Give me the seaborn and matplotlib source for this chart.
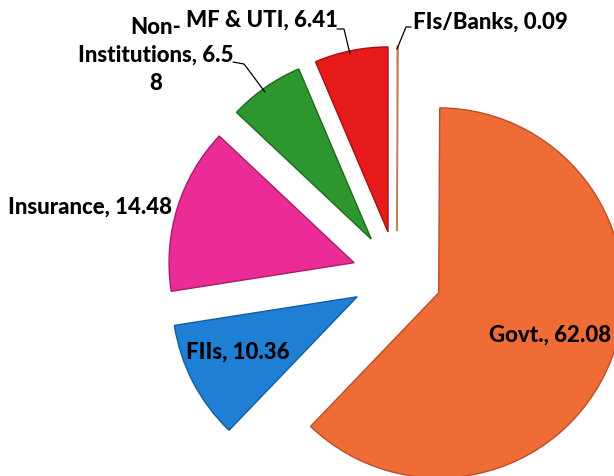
import matplotlib
matplotlib.use("Agg")
import matplotlib.pyplot as plt
import seaborn as sns

# shareholding pattern (%), clockwise from 12 o'clock
categories = ["FIs/Banks", "Govt.", "FIIs", "Insurance", "Non-Institutions", "MF & UTI"]
values = [0.09, 62.08, 10.36, 14.48, 6.58, 6.41]
slice_colors = ["#D9A06A", "#F06C36", "#1E7FD4", "#EC2C96", "#2E962E", "#E61A1A"]
edge_colors = ["#C08050", "#B8502A", "#155E9E", "#A81E6C", "#1F6A1F", "#A81010"]
label_texts = ["FIs/Banks, 0.09", "Govt., 62.08", "FIIs, 10.36",
               "Insurance, 14.48", "Non-\nInstitutions, 6.5\n8", "MF & UTI, 6.41"]

sns.set_theme(style="white")
plt.rcParams["font.family"] = ["Lato", "DejaVu Sans"]

W, H = 614, 477
fig = plt.figure(figsize=(W / 100, H / 100), dpi=100)
ax = fig.add_axes([0, 0, 1, 1])

wedges, _ = ax.pie(values, colors=slice_colors, startangle=90, counterclock=False,
                   explode=[0.243] * len(values), radius=1.0,
                   wedgeprops=dict(linewidth=1.0))
for w, ec in zip(wedges, edge_colors):
    w.set_edgecolor(ec)

# map pie so the centre sits at (397, 277) px with radius 185 px
cx, cy, r = 397, 277, 185
ax.set_xlim(-cx / r, (W - cx) / r)
ax.set_ylim(-(H - cy) / r, cy / r)
ax.set_aspect("equal")
ax.axis("off")


def fx(px):
    return px / W


def fy(py):
    return 1 - py / H


fs = 16
line_h = 28  # px between wrapped label lines
# label positions (pixels, first line) in the reference layout
label_pos = {
    "FIs/Banks": (413, 22, "left"),
    "Govt.": (550, 335, "center"),
    "FIIs": (238, 352, "center"),
    "Insurance": (172, 207, "right"),
    "Non-Institutions": (156, 27, "center"),
    "MF & UTI": (262, 20, "center"),
}
for cat, txt in zip(categories, label_texts):
    x, y, ha = label_pos[cat]
    # wrapped labels drawn line by line so each line keeps its own box
    for i, line in enumerate(txt.split("\n")):
        ax.text(fx(x), fy(y + i * line_h), line, transform=ax.transAxes, ha=ha,
                va="center", fontsize=fs, fontweight="black", color="black")

# leader lines
leaders = [
    [(411, 28), (406, 28), (397, 50)],
    [(337, 30), (344, 30), (350, 55)],
    [(233, 63), (244, 65), (265, 93)],
]
for pts in leaders:
    ax.plot([fx(p[0]) for p in pts], [fy(p[1]) for p in pts], color="black",
            linewidth=0.9, transform=ax.transAxes, clip_on=False)

fig.savefig("out.png", dpi=100, facecolor="white")
